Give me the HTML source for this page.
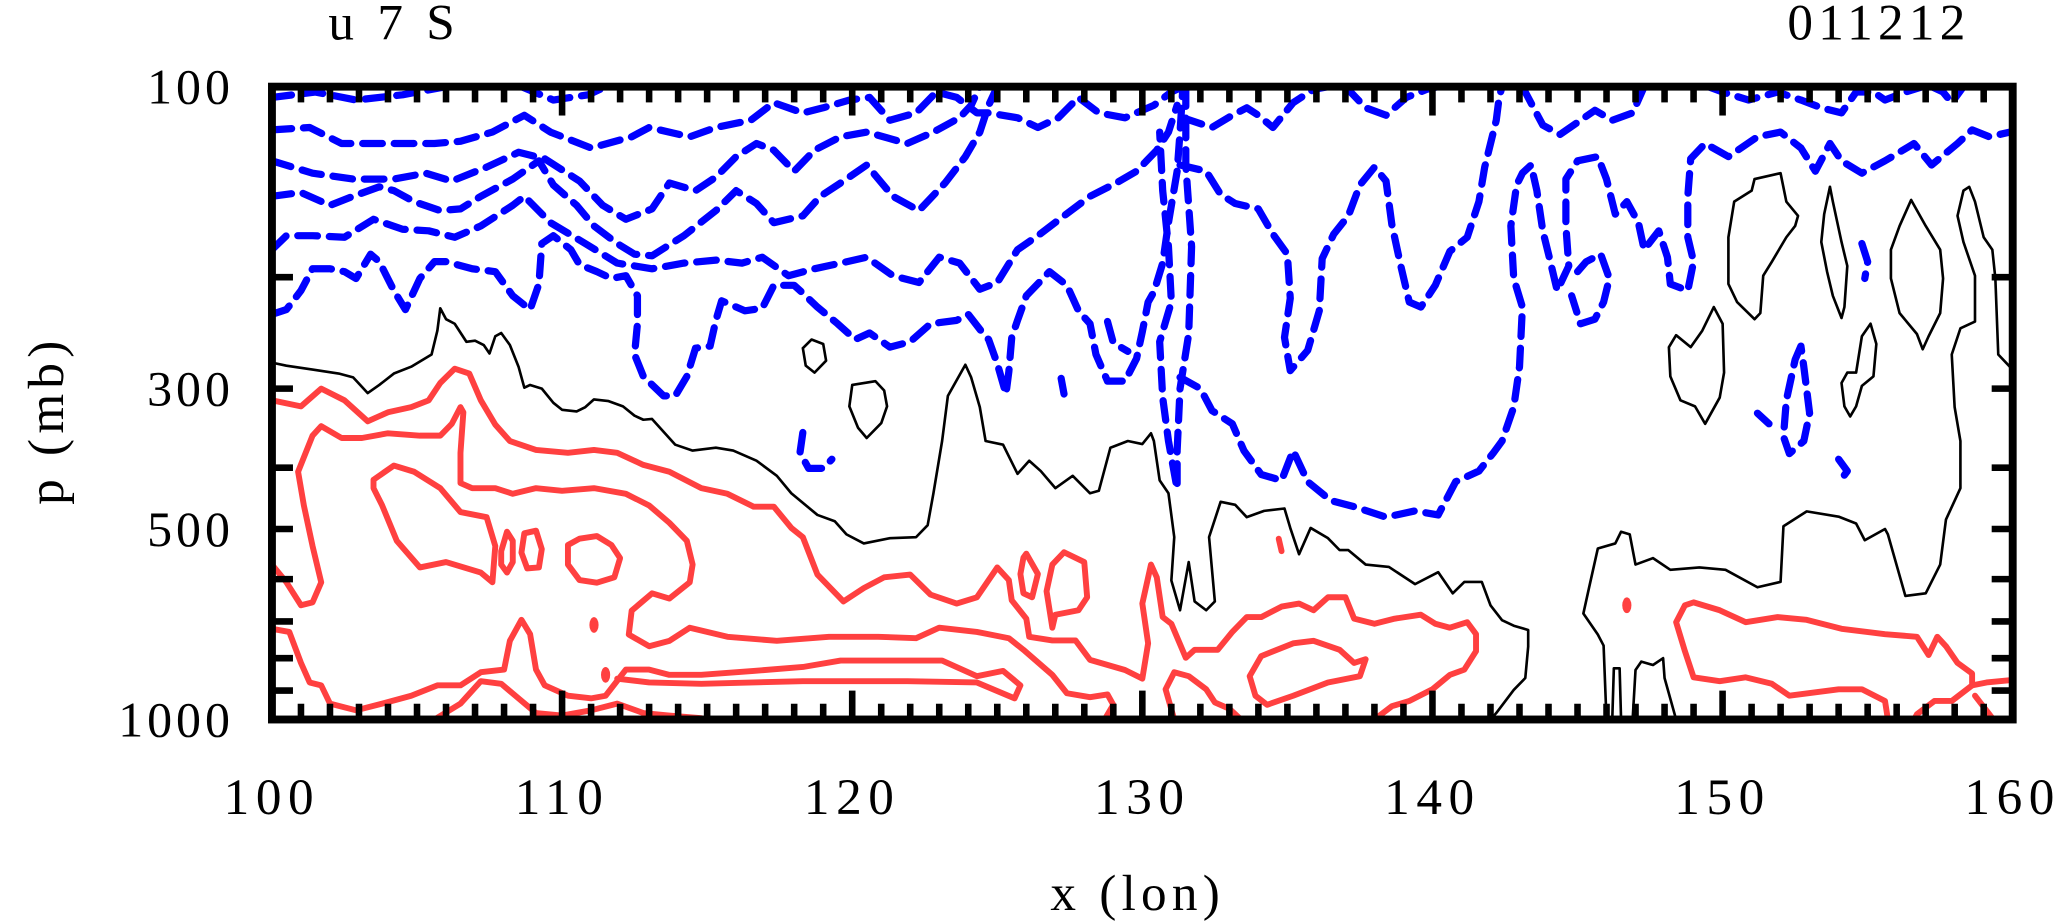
<!DOCTYPE html>
<html><head><meta charset="utf-8"><style>
html,body{margin:0;padding:0;background:#fff;}
svg{display:block;}
text{font-family:"Liberation Serif",serif;fill:#000;font-weight:400;}
</style></head><body>
<svg id="chart" width="2060" height="923" viewBox="0 0 1568 703" preserveAspectRatio="none" xmlns="http://www.w3.org/2000/svg">
<defs><clipPath id="pc"><rect x="207" y="66" width="1325" height="482"/></clipPath></defs>
<text x="250" y="30" font-size="39" letter-spacing="4">u  7  S</text>
<text x="1500" y="30" font-size="39" letter-spacing="4" text-anchor="end">011212</text>
<text transform="translate(48,320) rotate(-90)" font-size="39" letter-spacing="4" text-anchor="middle">p (mb)</text>
<text x="866" y="693" font-size="39" letter-spacing="4" text-anchor="middle">x (lon)</text>
<g id="contours" clip-path="url(#pc)"></g>
<g id="axes"></g>
</svg>
<script>
const xTicksMajor = [100,110,120,130,140,150,160];
const yTickLabels = [100,300,500,1000];
const yTicksMinor = [200,400,600,700,800,900];
const lonMin = 100, lonMax = 160, pTop = 100, pBot = 1000;

const blackMain = [[100,273],[100.5,276],[101.4,280],[102.3,284],[102.8,288],[103.3,305],[103.7,296],[104.2,284],[104.8,277],[105.5,265],[105.7,243],[105.8,224],[106,233],[106.3,237],[106.7,253],[107,252],[107.3,256],[107.5,264],[107.7,248],[107.9,245],[108.2,256],[108.5,277],[108.7,299],[108.9,296],[109.3,300],[109.7,316],[110,324],[110.5,326],[110.8,321],[111.1,312],[111.6,314],[112.1,320],[112.5,331],[112.8,336],[113.1,335],[113.9,368],[114.5,376],[115.3,372],[115.9,376],[116.7,390],[117.4,412],[117.9,439],[118.8,475],[119.4,486],[119.8,510],[120.4,527],[121.3,517],[122.2,515],[122.6,493],[122.8,439],[123.1,363],[123.3,308],[123.9,275],[124.1,288],[124.4,321],[124.6,363],[125.2,368],[125.7,409],[126.1,390],[126.5,405],[127,431],[127.6,412],[128.2,439],[128.5,435],[128.9,372],[129.5,363],[130,367],[130.3,353],[130.4,363],[130.6,419],[130.9,439],[131.1,515],[131,603],[131.3,672],[131.6,564],[131.8,651],[132.2,672],[132.5,651],[132.3,515],[132.7,453],[133.2,458],[133.6,479],[134.2,468],[134.9,464],[135.1,498],[135.4,548],[135.8,498],[136.4,517],[136.8,540],[137.1,540],[137.7,569],[138.5,574],[139.4,611],[140.2,585],[140.7,632],[141.1,606],[141.7,606],[142,660],[142.4,697],[142.8,711],[143.3,722],[143.3,767],[143.2,860],[142.8,898],[142.2,977],[142,1000]];
const blackRight = [[159.9,277],[159.5,265],[159.4,201],[159.3,181],[159,173],[158.7,152],[158.5,144],[158.3,146],[158.1,160],[158.3,176],[158.7,199],[158.7,235],[158.2,241],[157.9,265],[158,321],[158.2,363],[158.2,431],[157.7,483],[157.5,569],[157,632],[156.3,638],[155.7,510],[155.6,500],[154.9,521],[154.6,490],[154,478],[152.9,469],[152.1,495],[152,606],[151.2,618],[150.1,580],[149.2,575],[148.2,580],[147.6,556],[147,569],[146.8,510],[146.5,505],[146.3,527],[145.7,537],[145.4,618],[145.2,680],[145.7,734],[145.9,764],[146,1000]];
const blackLoopA = [[151.1,140],[152,137],[152.2,152],[152.6,160],[152.5,166],[152.2,173],[151.7,189],[151.4,199],[151.3,228],[151.1,233],[150.5,219],[150.2,205],[150.2,173],[150.4,152],[151,146],[151.1,140]];
const blackLoopB = [[153.7,144],[153.8,152],[154.1,176],[154.3,192],[154.2,223],[154.1,232],[153.8,214],[153.6,196],[153.4,176],[153.5,159],[153.7,144]];
const blackLoopC = [[156.5,151],[157,166],[157.5,181],[157.6,201],[157.5,228],[157.1,248],[156.9,260],[156.7,246],[156.1,228],[155.8,201],[155.8,181],[156.1,166],[156.5,151]];
const blackLoopD = [[149.7,223],[150,237],[150.05,283],[149.9,310],[149.4,341],[149.05,320],[148.55,313],[148.2,287],[148.15,258],[148.4,247],[148.9,258],[149.3,243],[149.7,223]];
const blackLoopE = [[155.1,237],[155.3,255],[155.2,287],[154.8,297],[154.6,320],[154.4,332],[154.2,320],[154.1,294],[154.3,283],[154.6,283],[154.8,248],[155.1,237]];
const blackLoopF = [[118.3,259],[118.6,251],[119,255],[119.1,271],[118.7,283],[118.4,276],[118.3,259]];
const blackLoopG = [[120,296],[120.8,292],[121.1,302],[121.2,320],[121,340],[120.5,359],[120.2,346],[119.9,320],[120,296]];
const blackSpike1 = [[146.2,1000],[146.25,830],[146.45,830],[146.5,1000]];
const blackSpike2 = [[146.9,1000],[147,835],[147.2,810],[147.6,820],[147.95,800],[148,860],[148.4,1000]];

const blue1 = [[100,104],[101.5,102],[102.9,105],[104.5,103],[106,100]];
const blue1b = [[108.6,100],[109.7,105],[110.9,103],[111.5,100]];
const blue2 = [[100,117],[101.3,116],[102.4,123],[103.8,123],[105.6,123],[106.5,122],[107.6,118],[108.7,111],[109.6,118],[111,125],[112.4,120],[113,116],[114.4,120],[115.3,116],[116.5,113],[117.3,106],[118.3,110],[119,108],[119.9,105],[120.6,104],[121.3,113],[122.2,110],[122.9,102],[123.6,104],[124.3,110],[124.7,110],[125.7,112],[126.4,116],[127.1,112],[127.8,104],[128.5,110],[129.4,112],[130.4,107],[131,102],[131.4,100]];
const blue3 = [[100,131],[101.4,137],[102.8,140],[104.2,140],[105.3,137],[106.2,141],[107.4,134],[108.5,127],[109.4,130],[110.6,141],[111.4,154],[112.2,162],[113.1,156],[113.7,142],[114.6,146],[115.3,139],[116,129],[116.7,123],[117.3,126],[118,136],[118.7,126],[119.6,120],[120.5,118],[121.9,123],[122.8,118],[123.7,112],[124.1,107],[124.4,100]];
const blue4 = [[100,149],[101,147],[102,154],[102.8,149],[103.7,144],[104.2,146],[104.9,152],[105.8,157],[106.5,156],[107.2,149],[108.3,140],[109.2,131],[109.7,143],[110.5,154],[111.1,166],[111.9,177],[112.5,184],[113.1,185],[114.2,172],[115.3,157],[116,146],[116.7,153],[117.3,164],[118.3,160],[118.9,149],[119.6,142],[120.5,133],[121.4,149],[122.3,157],[123.2,142],[123.9,129],[124.4,118],[124.7,107],[125,100]];
const blue5 = [[100,181],[100.5,172],[101.4,172],[102.5,173],[103.5,162],[104.5,168],[105.4,169],[106.3,173],[107.2,166],[108.3,154],[108.7,149],[109.6,164],[110.8,177],[111.9,190],[113.1,194],[114.2,190],[115.3,188],[116.2,190],[116.9,186],[117.8,199],[118.7,194],[119.6,190],[120.5,186],[121.4,199],[122.3,204],[123,186],[123.7,190],[124.4,209],[125,204],[125.7,181],[126.4,172],[127.3,160],[128.2,149],[129.1,142],[129.8,136],[130.5,126],[130.9,118],[131.2,107]];
const blue6 = [[100,229],[100.5,225],[101,210],[101.4,194],[102,194],[102.5,196],[102.9,201],[103.4,184],[103.7,189],[104.2,210],[104.6,225],[105.1,201],[105.6,189],[106,189],[106.9,194],[107.7,196],[108.3,214],[108.9,225],[109.2,205],[109.3,177],[109.7,172],[110.3,181],[110.6,191],[111.2,196],[111.7,201],[112.2,199],[112.6,214],[112.6,237],[112.5,265],[112.8,287],[113.5,308],[113.9,308],[114.3,287],[114.6,259],[115.1,257],[115.3,234],[115.5,218],[116.3,226],[116.9,224],[117.3,206],[118,206],[118.3,212],[118.8,223],[119.5,237],[120.1,251],[120.6,245],[121.3,258],[122,253],[122.7,237],[123.6,234],[124,229],[124.5,245],[124.7,251],[125,274],[125.3,306],[125.4,282],[125.5,249],[125.7,234],[126,214],[126.8,196],[127.4,206],[127.8,226],[128.2,237],[128.4,265],[128.8,292],[129.4,292],[129.8,269],[130,244],[130.2,219],[130.4,211],[130.7,190],[130.9,164],[131.2,136],[131.3,118],[131.4,100]];
const blue7 = [[131.5,100],[131.5,133],[131.7,179],[131.6,246],[131.3,300],[131.2,376],[131.2,432],[130.9,363],[130.7,310],[130.6,253],[131,219],[130.9,179],[130.7,146],[130.6,118]];
const blue8 = [[131.3,288],[132,300],[132.4,325],[133.1,341],[133.5,376],[134.1,410],[134.8,419],[135.2,376],[135.7,421],[136.5,451],[137.3,461],[138.4,479],[139.4,468],[140.2,475],[140.8,421],[141.6,405],[142.1,379],[142.4,363],[142.8,321],[143,277],[143.1,223],[142.8,201],[142.7,166],[142.9,143],[143.1,137],[143.4,133],[143.6,146],[143.8,169],[144,184],[144.3,210],[144.7,192],[144.6,166],[144.6,140],[145,131],[145.7,129],[146,140],[146.3,159],[146.7,152],[147.1,164],[147.3,181],[147.8,169],[148.1,186],[148.2,205],[148.8,210],[149,189],[148.8,173],[148.8,149],[148.9,130],[149.4,123],[150.2,129],[151.2,120],[152,118],[152.7,125],[153.2,136],[153.7,123],[154.1,131],[154.8,137],[155.6,131],[156.6,123],[157.2,133],[158.1,123],[158.6,117],[159.2,120],[159.9,118]];
const blue9 = [[131.3,133],[132.2,136],[132.7,148],[133.2,153],[134,156],[134.5,171],[135,184],[135.1,216],[134.9,249],[135.1,281],[135.7,261],[136.1,226],[136.2,187],[136.6,171],[137.1,160],[137.5,143],[138,134],[138.4,141],[138.6,165],[138.9,191],[139.2,219],[139.6,223],[140.1,206],[140.6,182],[141.2,173],[141.6,152],[141.8,134],[142.2,113],[142.3,104],[142.4,100]];
const blue10 = [[143.1,100],[143.8,115],[144.4,119],[145.6,109],[146.2,113],[146.9,110],[147.3,100]];
const blue11 = [[149.5,100],[150,102],[150.9,105],[151.9,102],[152.7,105],[153.4,108],[154.1,110],[154.6,102],[155.2,102],[155.6,105],[156.3,102],[156.9,100]];
const blue11b = [[157.2,100],[157.6,102],[157.9,106],[158.3,100]];
const blue12 = [[131.4,112],[132.4,116],[133.1,111],[133.6,108],[134,111],[134.5,116],[135.2,106],[135.9,101],[136.4,100]];
const blue13 = [[137,100],[137.7,108],[138.4,111],[139.1,104],[139.8,101],[140.2,100]];
const blueS1 = [[145,196],[145.3,189],[145.8,184],[146.1,201],[145.9,219],[145.6,233],[145.1,237],[144.8,214]];
const blueS2 = [[152.5,270],[152.7,257],[152.8,277],[153,328],[152.8,363],[152.3,380],[152.1,357],[152.2,313],[152.5,270]];
const blueS2b = [[151.2,328],[151.6,341]];
const blueS3 = [[154,388],[154.3,405],[154.1,417]];
const blueS4 = [[154.8,177],[155,189],[154.9,201]];
const blueS6 = [[118.3,352],[118.2,379],[118.5,401],[119,401],[119.3,388]];
const blueS7 = [[127.2,289],[127.3,306]];
const blueS8 = [[128.8,235],[129,254],[129.5,262]];

const red1 = [[100,313],[101,320],[101.7,300],[102.5,313],[103.3,338],[104,327],[104.8,321],[105.4,313],[105.8,294],[106.3,279],[106.8,284],[107.2,313],[107.7,342],[108.2,363],[109.1,375],[110.2,379],[111.1,375],[111.9,379],[112.8,396],[113.7,406],[114.8,431],[115.7,440],[116.6,461],[117.3,461],[117.9,498],[118.3,515],[118.8,590],[119.7,651],[120.4,620],[121.1,596],[122,590],[122.7,635],[123.6,656],[124.3,641],[125,575],[125.4,602],[125.5,648],[126,693],[126.1,740],[126.9,750],[127.7,750],[128.2,805],[129.4,835],[130,862],[130.2,758],[130,656],[130.3,569],[130.5,596],[130.7,689],[131,706],[131.5,799],[131.8,776],[132.6,776],[133.1,727],[133.6,689],[134.1,689],[134.8,663],[135.4,656],[135.9,672],[136.4,641],[137,641],[137.3,693],[138,706],[138.7,693],[139.6,683],[140.1,706],[140.6,716],[141.2,702],[141.5,733],[141.5,780],[141.1,834],[140.6,850],[140,896],[139.2,935],[138.6,953],[138,1000]];
const red2 = [[100,569],[100.5,607],[101,660],[101.4,653],[101.7,607],[101.4,532],[101.1,459],[100.9,406],[101.4,356],[101.7,344],[102.4,359],[103.1,359],[104,353],[105.1,356],[105.8,356],[106.2,341],[106.5,321],[106.6,327],[106.5,379],[106.5,423],[106.9,431],[107.7,431],[108.3,440],[109.1,431],[110,435],[111.1,431],[112.2,440],[113,459],[113.7,489],[114.3,522],[114.5,569],[114.4,607],[113.7,644],[113.1,632],[112.4,673],[112.3,734],[113,766],[113.7,751],[114.4,716],[115.7,740],[117.4,751],[119.2,740],[120.9,740],[122.2,744],[123,716],[124.3,727],[125.4,744],[125.9,776],[126.9,850],[127.4,909],[128.2,922],[128.8,913],[129,948],[128.7,1000]];
const red3 = [[103.5,418],[104.2,397],[104.9,406],[105.8,431],[106.5,470],[107.4,479],[107.7,532],[107.6,607],[107.2,586],[106,564],[105.1,575],[104.3,522],[103.8,459],[103.5,431],[103.5,418]];
const red4 = [[107.9,542],[108.1,505],[108.3,522],[108.3,564],[108.1,586],[107.9,569],[107.9,542]];
const red5 = [[108.7,508],[109.1,503],[109.3,538],[109.2,575],[108.8,577],[108.6,545],[108.7,508]];
const red6 = [[110.6,518],[111.2,513],[111.7,530],[112,556],[111.8,596],[111.2,608],[110.6,602],[110.2,569],[110.2,530],[110.6,518]];
const red7 = [[126,547],[126.4,589],[126.2,641],[125.9,632],[125.8,589],[125.9,555],[126,547]];
const red8 = [[127.3,544],[128,564],[128.1,641],[127.8,672],[127,683],[126.9,716],[126.7,627],[126.9,569],[127.3,544]];
const red9 = [[100,719],[100.6,727],[101,814],[101.3,874],[101.7,883],[102,944],[102.9,967],[103.8,944],[104.8,917],[105.7,883],[106.5,883],[107.2,842],[108,834],[108.2,751],[108.6,696],[108.9,733],[109.1,834],[109.4,883],[110.2,917],[111,926],[111.5,917],[112.2,834],[113,834],[113.7,850],[114.8,850],[116.6,838],[118.3,826],[119.6,807],[123.1,807],[124.3,854],[125.2,838],[125.8,883],[125.6,926],[124.3,874],[121.9,870],[118.3,870],[114.8,878],[113,874],[111.9,862]];
const red10 = [[105.6,1000],[106.5,944],[107.2,870],[107.9,878],[108.5,926],[109.1,977],[110,986],[111,967],[111.9,944],[112.8,977],[113.7,986],[114.8,995]];
const red11 = [[134.1,794],[135.2,758],[135.9,751],[136.8,776],[137.3,814],[137.7,803],[137.5,854],[136.4,874],[135.2,917],[134.3,948],[133.9,917],[133.7,854],[134.1,794]];
const red12 = [[131.1,1000],[130.8,896],[131.1,842],[131.6,854],[132.2,896],[132.5,940],[133,962],[133.4,1000]];
const red13 = [[155.7,1000],[155.6,935],[154.8,896],[154,896],[152.3,917],[151.7,878],[150.8,858],[149.9,870],[149,858],[148.7,780],[148.4,702],[148.7,660],[149,653],[149.9,672],[150.8,702],[151.9,689],[152.9,696],[154.1,719],[155.6,733],[156.7,740],[157.1,791],[157.4,740],[157.7,766],[158.1,814],[158.6,846],[158.6,883],[157.9,935],[157.3,935],[156.7,981],[156.6,1000]];
const red14 = [[158.6,883],[159.1,874],[160,866]];
const red15 = [[158.7,917],[159.3,995]];
const red16 = [[134.7,518],[134.8,542]];
const redDots = [[111.1,709],[111.5,850],[146.7,660]];

const X0=207, X1=1532, Y0=66, Y1=548;
function xs(lon){return X0+(lon-lonMin)/(lonMax-lonMin)*(X1-X0);}
function ys(p){return Y0+Math.log10(p/pTop)/Math.log10(pBot/pTop)*(Y1-Y0);}
const NS='http://www.w3.org/2000/svg';
const layer=document.getElementById('contours');
const axes=document.getElementById('axes');
function mk(tag){return document.createElementNS(NS,tag);}
function line(pts,color,w,dash,name){
  const el=mk('polyline');
  el.setAttribute('points',pts.map(d=>xs(d[0]).toFixed(1)+','+ys(d[1]).toFixed(1)).join(' '));
  el.setAttribute('fill','none');el.setAttribute('stroke',color);el.setAttribute('stroke-width',w);
  el.setAttribute('stroke-linejoin','round');el.setAttribute('stroke-linecap','round');
  if(dash)el.setAttribute('stroke-dasharray',dash);
  
  
  layer.appendChild(el);
}
const RED='#ff4040', BLUE='#0000ff';
[red1,red2,red3,red4,red5,red6,red7,red8,red9,red10,red11,red12,red13,red14,red15,red16].forEach(c=>line(c,RED,4.5,null,'positive-contour'));
redDots.forEach(d=>{const c=mk('ellipse');c.setAttribute('cx',xs(d[0]));c.setAttribute('cy',ys(d[1]));c.setAttribute('rx',3.5);c.setAttribute('ry',6);c.setAttribute('fill',RED);


layer.appendChild(c);});
[blue1,blue1b,blue2,blue3,blue4,blue5,blue6,blue7,blue8,blue9,blue10,blue11,blue11b,blue12,blue13,blueS1,blueS2,blueS2b,blueS3,blueS4,blueS6,blueS7,blueS8].forEach(c=>line(c,BLUE,5.5,'15 9','negative-contour'));
[blackMain,blackRight,blackLoopA,blackLoopB,blackLoopC,blackLoopD,blackLoopE,blackLoopF,blackLoopG,blackSpike1,blackSpike2].forEach(c=>line(c,'#000',2,null,'zero-contour'));

function seg(x1,y1,x2,y2,w,name){const l=mk('line');l.setAttribute('x1',x1);l.setAttribute('y1',y1);l.setAttribute('x2',x2);l.setAttribute('y2',y2);l.setAttribute('stroke','#000');l.setAttribute('stroke-width',w);


axes.appendChild(l);}
for(let lon=lonMin+1;lon<lonMax;lon++){
  const major=xTicksMajor.includes(lon);const L=major?22:12;const x=xs(lon);
  seg(x,Y1,x,Y1-L,5,'x-tick');seg(x,Y0,x,Y0+L,5,'x-tick-top');
}
yTicksMinor.concat([300,500]).forEach(p=>{const y=ys(p);seg(X0,y,X0+16,y,5,'y-tick');seg(X1,y,X1-16,y,5,'y-tick-right');});
const frame=mk('rect');frame.setAttribute('x',X0);frame.setAttribute('y',Y0);frame.setAttribute('width',X1-X0);frame.setAttribute('height',Y1-Y0);
frame.setAttribute('fill','none');frame.setAttribute('stroke','#000');frame.setAttribute('stroke-width',6);


axes.appendChild(frame);
xTicksMajor.forEach(lon=>{const t=mk('text');t.setAttribute('x',xs(lon));t.setAttribute('y',620);t.setAttribute('font-size',39);t.setAttribute('letter-spacing',5);t.setAttribute('text-anchor','middle');t.textContent=lon;


axes.appendChild(t);});
yTickLabels.forEach(p=>{const t=mk('text');t.setAttribute('x',178);t.setAttribute('y',ys(p)+13);t.setAttribute('font-size',38);t.setAttribute('letter-spacing',3);t.setAttribute('text-anchor','end');t.textContent=p;


axes.appendChild(t);});
</script>
</body></html>
